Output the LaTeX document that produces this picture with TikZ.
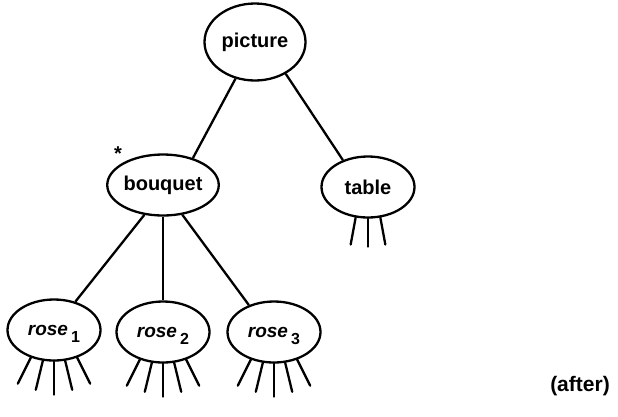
\documentclass[tikz,border=0pt]{standalone}
\usepackage{fontspec}
\setmainfont{Liberation Sans}
\usetikzlibrary{positioning,shapes.geometric}

% subscript on the rose labels: upright, lowered, no extra depth
\newcommand{\rsub}[1]{\,\raisebox{-7pt}[0pt][0pt]{\fontsize{16}{16}\selectfont #1}}

\begin{document}
\begin{tikzpicture}[x=1pt, y=-1pt, line width=2.3pt, main/.style = {ellipse, draw, minimum width=93pt, minimum height=61pt, inner sep=0pt, font=\fontsize{20}{20}\selectfont\bfseries}, rose/.style={main, font=\fontsize{19}{19}\selectfont\bfseries}, leg/.style={line cap=round}]
\useasboundingbox (0,0) rectangle (618,416);

\node[main, minimum width=101pt, minimum height=77pt] (picture) at (255,42) {picture};
\node[main, label={[font=\fontsize{20}{20}\selectfont\bfseries, label distance=-5pt]152:*}] (bouquet) at (163,185) {bouquet};
\node[main] (table) at (368,187) {table};
\node[rose] (rose1) at (54,330) {\textit{rose}\rsub{1}};
\node[rose] (rose2) at (163,332) {\textit{rose}\rsub{2}};
\node[rose] (rose3) at (274,332) {\textit{rose}\rsub{3}};
\node[font=\fontsize{21}{21}\selectfont\bfseries] (after) at (580,386) {(after)};

\path 
    (picture.-118) edge (bouquet.42)
    (picture.-46) edge (table.133)
    (bouquet.-122) edge (rose1.53)
    (bouquet.south) edge (rose2.north)
    (bouquet.-57) edge (rose3.133);

% legs
\foreach \r in {rose1,rose2,rose3}
  \foreach \a/\dx/\dy in {-130/-13/26, -110/-7/29, -90/0/33, -70/7/29, -50/13/26}
    \draw[leg] (\r.\a) -- ++(\dx,\dy);
\foreach \a/\dx/\dy in {-112/-5/27, -90/0/28, -68/5/27}
  \draw[leg] (table.\a) -- ++(\dx,\dy);
\end{tikzpicture}
\end{document}
